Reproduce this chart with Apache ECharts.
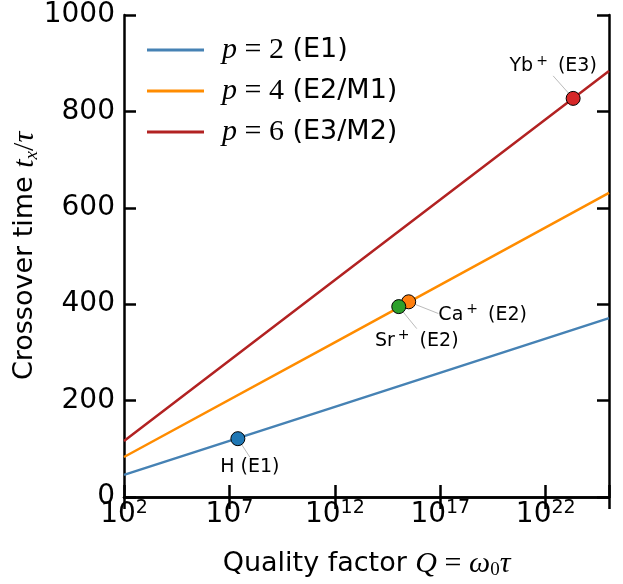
<!DOCTYPE html>
<html>
<head>
<meta charset="utf-8">
<script src="https://cdn.jsdelivr.net/npm/echarts@6/dist/echarts.min.js"></script>
<style>
  html, body { margin: 0; padding: 0; background: #fff; }
  #main { width: 623px; height: 584px; }
</style>
</head>
<body>
<div id="main"></div>
<script>
// x is log10(Q)
var logQ = [2, 12, 25];
var tP2 = [46, 187, 371];
var tP4 = [83, 321, 631];
var tP6 = [116, 450, 884];

var lineNames = ['p2', 'p4', 'p6'];
var lineLabels = ['{g|}{mi|p}{mr| = 2} (E1)', '{g|}{mi|p}{mr| = 4} (E2/M1)', '{g|}{mi|p}{mr| = 6} (E3/M2)'];
var lineColors = ['#4682b4', '#ff8c00', '#b22222'];

// ions: name, log10(Q), t_x/tau
var ionNames = ['H', 'Ca', 'Sr', 'Yb'];
var ionLabels = ['{t|H (E1)}', '{t|Ca}{sup|+}{t| (E2)}', '{t|Sr}{sup|+}{t| (E2)}', '{t|Yb}{sup|+}{t| (E3)}'];
var ionLogQ = [7.4, 15.5, 15.03, 23.3];
var ionT = [121, 405, 395, 827];
var ionColors = ['#1f77b4', '#ff7f0e', '#2ca02c', '#d62728'];
var ionOffsets = [[12, 28], [74, 13], [18, 34], [-20, -32]];

var xTicks = [2, 7, 12, 17, 22];

function pairs(xs, ys) {
	var out = [];
	xs.forEach(function(x, i) { out.push([x, ys[i]]); });
	return out;
}

var myChart = echarts.init(document.getElementById('main'));

var mathRich = {
	g: { width: 13 },
	mi: { fontFamily: 'Liberation Serif', fontStyle: 'italic', fontSize: 30, lineHeight: 40 },
	mr: { fontFamily: 'Liberation Serif', fontSize: 30, lineHeight: 40 }
};

var axisCommon = {
	axisLine: { show: true, lineStyle: { color: '#000', width: 2.5 } },
	axisTick: { show: true, inside: true, length: 12, lineStyle: { color: '#000', width: 2.5 } },
	splitLine: { show: false }
};

var series = [];
[tP2, tP4, tP6].forEach(function(vals, i) {
	series.push({
		name: lineNames[i],
		type: 'line',
		data: pairs(logQ, vals),
		showSymbol: false,
		symbol: 'none',
		lineStyle: { color: lineColors[i], width: 2.5 },
		itemStyle: { color: lineColors[i] },
		z: 2
	});
});

var ionData = [];
ionNames.forEach(function(n, i) {
	ionData.push({
		name: n,
		value: [ionLogQ[i], ionT[i]],
		itemStyle: { color: ionColors[i], borderColor: '#000', borderWidth: 1, opacity: 1 }
	});
});

series.push({
	name: 'ions',
	type: 'scatter',
	data: ionData,
	symbolSize: 14,
	z: 5,
	label: {
		show: true,
		position: 'inside',
		formatter: function(p) { return ionLabels[p.dataIndex]; },
		rich: {
			t: { fontFamily: 'DejaVu Sans', fontSize: 19, color: '#000', lineHeight: 24 },
			sup: { fontFamily: 'DejaVu Sans', fontSize: 14, color: '#000', verticalAlign: 'top', lineHeight: 12, padding: [0, 4, 0, 3] }
		}
	},
	labelLine: { show: true, lineStyle: { color: '#bbbbbb', width: 1 } },
	labelLayout: function(p) {
		return { dx: ionOffsets[p.dataIndex][0], dy: ionOffsets[p.dataIndex][1] };
	}
});

var option = {
	animation: false,
	backgroundColor: '#fff',
	textStyle: { fontFamily: 'DejaVu Sans', color: '#000' },
	grid: { left: 124, right: 14, top: 15, bottom: 87, containLabel: false, outerBoundsMode: 'none' },
	legend: {
		data: lineNames,
		left: 147,
		top: 30,
		padding: 0,
		orient: 'vertical',
		itemGap: 1,
		itemWidth: 57,
		itemHeight: 3,
		icon: 'rect',
		formatter: function(n) { return lineLabels[lineNames.indexOf(n)]; },
		textStyle: { fontSize: 27, color: '#000', lineHeight: 40, rich: mathRich }
	},
	xAxis: [
		echarts.util.merge({
			type: 'value',
			position: 'bottom',
			min: 2,
			max: 25,
			interval: 5,
			axisLabel: {
				margin: 2,
				color: '#000',
				formatter: function(v) {
					if (xTicks.indexOf(v) < 0) return '';
					return '{b|10}{sup|' + v + '}';
				},
				rich: {
					b: { fontFamily: 'DejaVu Sans', fontSize: 28, lineHeight: 32, color: '#000' },
					sup: { fontFamily: 'DejaVu Sans', fontSize: 19, lineHeight: 12, verticalAlign: 'top', color: '#000' }
				}
			},
			name: 'Quality factor {mi|Q}{mr| = }{mi|ω}{sub|0}{mi|τ}',
			nameLocation: 'middle',
			nameGap: 51,
			nameMoveOverlap: false,
			nameTextStyle: {
				fontFamily: 'DejaVu Sans', fontSize: 27, color: '#000', lineHeight: 32,
				rich: {
					mi: { fontFamily: 'Liberation Serif', fontStyle: 'italic', fontSize: 30, lineHeight: 32 },
					mr: { fontFamily: 'Liberation Serif', fontSize: 30, lineHeight: 32 },
					sub: { fontFamily: 'Liberation Serif', fontSize: 19, lineHeight: 22, verticalAlign: 'bottom' }
				}
			}
		}, axisCommon, true),
		echarts.util.merge({
			type: 'value',
			position: 'top',
			min: 2,
			max: 25,
			interval: 5,
			axisLabel: { show: false }
		}, axisCommon, true)
	],
	yAxis: [
		echarts.util.merge({
			type: 'value',
			position: 'left',
			min: 0,
			max: 1000,
			interval: 200,
			axisLabel: {
				margin: 9, fontSize: 28, color: '#000', fontFamily: 'DejaVu Sans',
				formatter: function(v) { return String(v); }
			},
			name: 'Crossover time {mi|t}{sub|x}{mr|/}{mi|τ}',
			nameLocation: 'middle',
			nameGap: 83,
			nameMoveOverlap: false,
			nameTextStyle: {
				fontFamily: 'DejaVu Sans', fontSize: 27, color: '#000', lineHeight: 32,
				rich: {
					mi: { fontFamily: 'Liberation Serif', fontStyle: 'italic', fontSize: 30, lineHeight: 32 },
					mr: { fontFamily: 'Liberation Serif', fontSize: 30, lineHeight: 32 },
					sub: { fontFamily: 'Liberation Serif', fontStyle: 'italic', fontSize: 19, lineHeight: 22, verticalAlign: 'bottom' }
				}
			}
		}, axisCommon, true),
		echarts.util.merge({
			type: 'value',
			position: 'right',
			min: 0,
			max: 1000,
			interval: 200,
			axisLabel: { show: false }
		}, axisCommon, true)
	],
	series: series
};

myChart.setOption(option);
</script>
</body>
</html>
